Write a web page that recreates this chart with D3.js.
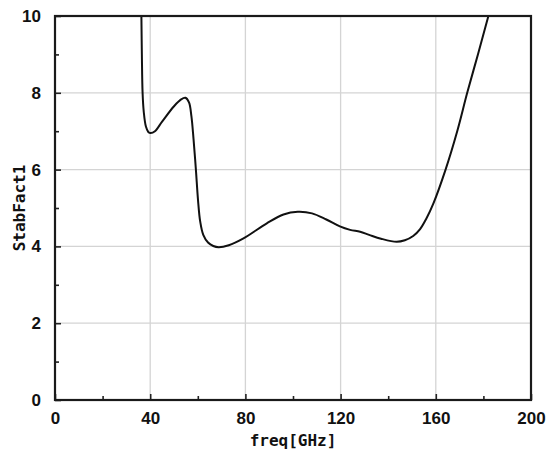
<!DOCTYPE html>
<html><head><meta charset="utf-8">
<script src="https://cdn.jsdelivr.net/npm/d3@7"></script>
<style>html,body{margin:0;padding:0;background:#fff;}</style>
</head><body>
<svg id="chart" width="550" height="456"></svg>
<script>
const freq = [36.3, 36.5, 36.8, 37.3, 38.2, 39.2, 40.2, 42, 45, 50, 53, 54.8, 56.3, 57.3, 58.2, 59.2, 60.1, 61, 62.3, 64.3, 66.5, 68.8, 73, 79, 89, 96, 102, 108, 114, 119.7, 124, 128.2, 132, 137, 143.5, 147, 150.5, 153.4, 156, 159, 164, 169, 173.2, 177.7, 182.1];
const stab = [10, 9, 8, 7.5, 7.12, 6.98, 6.95, 7.0, 7.25, 7.65, 7.83, 7.87, 7.75, 7.4, 6.8, 6.0, 5.2, 4.65, 4.3, 4.1, 4.01, 3.98, 4.03, 4.2, 4.6, 4.83, 4.9, 4.86, 4.7, 4.52, 4.43, 4.38, 4.3, 4.2, 4.12, 4.16, 4.27, 4.45, 4.72, 5.12, 5.98, 7.0, 8.0, 9.0, 10];
const xMajorTicks = [0, 40, 80, 120, 160, 200];
const xMinorTicks = [20, 60, 100, 140, 180];
const yMajorTicks = [0, 2, 4, 6, 8, 10];
const yMinorTicks = [1, 3, 5, 7, 9];
const xTitle = "freq[GHz]";
const yTitle = "StabFact1";

const svg = d3.select("#chart");
const L = 55, R = 531, T = 16, B = 400;
const x = d3.scaleLinear().domain([0, 200]).range([L, R]);
const y = d3.scaleLinear().domain([0, 10]).range([B, T]);

// grid
const grid = svg.append("g").attr("stroke", "#d4d4d4").attr("stroke-width", 1.3);
xMajorTicks.filter(d => d > 0 && d < 200).forEach(d => {
  grid.append("line").attr("x1", x(d)).attr("x2", x(d)).attr("y1", T).attr("y2", B);
});
yMajorTicks.filter(d => d > 0 && d < 10).forEach(d => {
  grid.append("line").attr("x1", L).attr("x2", R).attr("y1", y(d)).attr("y2", y(d));
});

// curve
const pts = freq.map((f, i) => [f, stab[i]]);
svg.append("defs").append("clipPath").attr("id", "clip")
  .append("rect").attr("x", L).attr("y", T).attr("width", R - L).attr("height", B - T);
svg.append("path").datum(pts)
  .attr("clip-path", "url(#clip)")
  .attr("fill", "none").attr("stroke", "#111").attr("stroke-width", 2)
  .attr("d", d3.line().x(d => x(d[0])).y(d => y(d[1])).curve(d3.curveCatmullRom.alpha(0.5)));

// axes (ticks inward)
const font = "'Liberation Sans', Arial, sans-serif";
const xAxis = d3.axisBottom(x).tickValues(xMajorTicks).tickSizeInner(-6).tickSizeOuter(0).tickPadding(12);
const gx = svg.append("g").attr("transform", `translate(0,${B})`).call(xAxis);
gx.selectAll("text").attr("font-family", font).attr("font-size", 17).attr("font-weight", "bold").attr("fill", "#111");
gx.selectAll("line").attr("stroke", "#222").attr("stroke-width", 1.6);
const xMinor = d3.axisBottom(x).tickValues(xMinorTicks).tickSizeInner(-4).tickSizeOuter(0).tickFormat("");
const gxm = svg.append("g").attr("transform", `translate(0,${B})`).call(xMinor);
gxm.select(".domain").remove();
gxm.selectAll("line").attr("stroke", "#222").attr("stroke-width", 1.6);

const yAxis = d3.axisLeft(y).tickValues(yMajorTicks).tickSizeInner(-6).tickSizeOuter(0).tickPadding(14);
const gy = svg.append("g").attr("transform", `translate(${L},0)`).call(yAxis);
gy.selectAll("text").attr("font-family", font).attr("font-size", 17).attr("font-weight", "bold").attr("fill", "#111");
gy.selectAll("line").attr("stroke", "#222").attr("stroke-width", 1.6);
const yMinor = d3.axisLeft(y).tickValues(yMinorTicks).tickSizeInner(-4).tickSizeOuter(0).tickFormat("");
const gym = svg.append("g").attr("transform", `translate(${L},0)`).call(yMinor);
gym.select(".domain").remove();
gym.selectAll("line").attr("stroke", "#222").attr("stroke-width", 1.6);

gx.select(".domain").remove();
gy.select(".domain").remove();

// frame
svg.append("rect").attr("x", L).attr("y", T).attr("width", R - L).attr("height", B - T)
  .attr("fill", "none").attr("stroke", "#1a1a1a").attr("stroke-width", 2.2);

// titles
const tfont = "'DejaVu Sans Mono', monospace";
svg.append("text").attr("x", (L + R) / 2).attr("y", 446).attr("text-anchor", "middle")
  .attr("font-family", tfont).attr("font-size", 16).attr("font-weight", "bold").attr("fill", "#111").text(xTitle);
svg.append("text").attr("transform", `translate(25,${(T + B) / 2}) rotate(-90)`).attr("text-anchor", "middle")
  .attr("font-family", tfont).attr("font-size", 16).attr("font-weight", "bold").attr("fill", "#111").text(yTitle);
</script>
</body></html>
